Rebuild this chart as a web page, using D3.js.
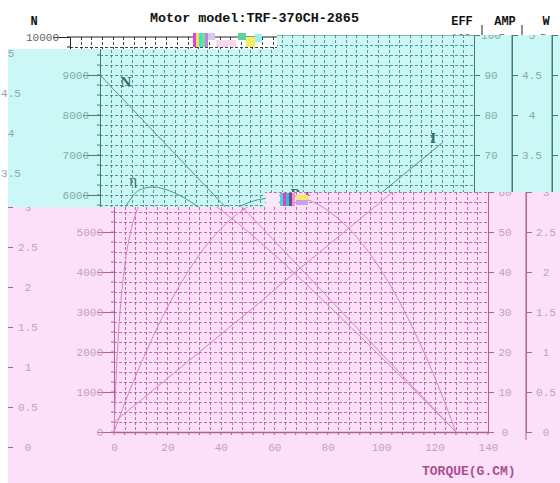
<!DOCTYPE html>
<html>
<head>
<meta charset="utf-8">
<script src="https://cdn.jsdelivr.net/npm/d3@7"></script>
<style>
  body { margin: 0; background: #fff; }
  svg { display: block; }
</style>
</head>
<body>
<div id="chart"></div>
<script>
var width = 560;
var height = 483;

// motor curve data (torque in g.cm)
var torque     = [0, 1, 2, 4, 6, 8, 12, 16, 20, 24, 28, 32, 40, 48, 56, 64, 72, 80, 88, 96, 104, 112, 120, 128];
var speed      = [9000, 8930, 8859, 8719, 8578, 8438, 8156, 7875, 7594, 7313, 7031, 6750, 6188, 5625, 5063, 4500, 3938, 3375, 2813, 2250, 1688, 1125, 563, 0];
var current    = [0.12, 0.15, 0.18, 0.23, 0.29, 0.34, 0.45, 0.56, 0.67, 0.78, 0.89, 1.00, 1.22, 1.44, 1.66, 1.89, 2.11, 2.33, 2.55, 2.77, 2.99, 3.21, 3.43, 3.65];
var efficiency = [0, 16.6, 27.7, 41.5, 49.4, 54.3, 59.5, 61.6, 62.0, 61.5, 60.5, 59.1, 55.5, 51.3, 46.7, 41.9, 36.9, 31.8, 26.6, 21.4, 16.1, 10.8, 5.4, 0];
var power      = [0, 0.09, 0.18, 0.36, 0.53, 0.69, 1.00, 1.29, 1.56, 1.80, 2.02, 2.22, 2.54, 2.77, 2.91, 2.96, 2.91, 2.77, 2.54, 2.22, 1.80, 1.29, 0.69, 0];

var torqueTicks = [0, 20, 40, 60, 80, 100, 120, 140];
var speedTicks  = [0, 1000, 2000, 3000, 4000, 5000, 6000, 7000, 8000, 9000, 10000];
var effTicks    = [0, 10, 20, 30, 40, 50, 60, 70, 80, 90, 100];
var ampTicks    = [0, 0.5, 1, 1.5, 2, 2.5, 3, 3.5, 4, 4.5, 5];
var wattTicks   = [0, 0.5, 1, 1.5, 2, 2.5, 3, 3.5, 4, 4.5, 5];

var title = "Motor model:TRF-370CH-2865";
var xTitle = "TORQUE(G.CM)";

var mono = "'Liberation Mono', 'DejaVu Sans Mono', monospace";
var serif = "'Liberation Serif', 'DejaVu Serif', serif";

var svg = d3.select("#chart")
    .append("svg")
    .attr("width", width)
    .attr("height", height);

var defs = svg.append("defs");

// the picture is three tinted bands, each one shifted a little
var bands = [
    {id: "plain", L: 70, Y0: 437, clip: null, bg: null, wrap: null,
     col: {bg: null, grid: "#222", axis: "#222", curve: "#333", text: "#666", label: "#111"}},
    {id: "cyan", L: 100, Y0: 435,
     clip: "0,49 277,49 277,35 560,35 560,192 265,192 265,207 0,207",
     bg: "8,49 277,49 277,35 560,35 560,192 265,192 265,207 8,207",
     wrap: [562, 18],
     col: {bg: "#cbf8f7", grid: "#3f877a", axis: "#3f7f74", curve: "#4f9486", text: "#86aaa6", label: "#2f6f63"}},
    {id: "pink", L: 114, Y0: 432,
     clip: "8,207 265,207 265,192 560,192 560,483 8,483",
     bg: "8,207 265,207 265,192 560,192 560,483 8,483",
     wrap: [559, 15],
     col: {bg: "#fcdff9", grid: "#b65c9c", axis: "#b0609a", curve: "#d585c2", text: "#c99cc0", label: "#a8508f"}}
];

bands.forEach(function(b) {
    var g = svg.append("g");
    if (b.clip) {
        defs.append("clipPath").attr("id", "clip-" + b.id)
            .append("polygon").attr("points", b.clip);
        g.attr("clip-path", "url(#clip-" + b.id + ")");
    }
    if (b.bg) {
        g.append("polygon").attr("points", b.bg).attr("fill", b.col.bg);
    }
    drawChart(g, b.L, b.Y0, b.col);
    if (b.wrap) {
        // the far right axis wraps round to the left edge
        drawChart(g, b.L - b.wrap[0], b.Y0 + b.wrap[1], b.col);
    }
});

drawNoise();

function drawChart(g, L, Y0, c) {
    var plotW = 374, plotH = 400;
    var top = Y0 - plotH, right = L + plotW;

    var x = d3.scaleLinear().domain([0, 140]).range([L, right]);
    var yN = d3.scaleLinear().domain([0, 10000]).range([Y0, top]);
    var yE = d3.scaleLinear().domain([0, 100]).range([Y0, top]);
    var yA = d3.scaleLinear().domain([0, 5]).range([Y0, top]);
    var yW = d3.scaleLinear().domain([0, 5]).range([Y0, top]);

    // dotted grid, 4 g.cm by 250 rpm
    var grid = g.append("g")
        .attr("stroke", c.grid)
        .attr("stroke-width", 1)
        .attr("stroke-opacity", 0.85)
        .attr("stroke-dasharray", "3,2");
    grid.selectAll(".vgrid")
        .data(d3.range(4, 140, 4))
        .enter().append("line")
        .attr("class", "vgrid")
        .attr("x1", d => Math.round(x(d)) + 0.5)
        .attr("x2", d => Math.round(x(d)) + 0.5)
        .attr("y1", top)
        .attr("y2", Y0);
    grid.selectAll(".hgrid")
        .data(d3.range(250, 10000, 250))
        .enter().append("line")
        .attr("class", "hgrid")
        .attr("x1", L)
        .attr("x2", right)
        .attr("y1", d => Math.round(yN(d)) + 0.5)
        .attr("y2", d => Math.round(yN(d)) + 0.5);

    // small ticks along the frame
    g.append("g").attr("stroke", c.axis)
        .selectAll("line")
        .data(d3.range(0, 141, 4))
        .enter().append("line")
        .attr("x1", d => x(d)).attr("x2", d => x(d))
        .attr("y1", Y0).attr("y2", Y0 + 3);
    g.append("g").attr("stroke", c.axis)
        .selectAll("line")
        .data(d3.range(0, 10001, 250))
        .enter().append("line")
        .attr("x1", L - 3).attr("x2", L)
        .attr("y1", d => yN(d)).attr("y2", d => yN(d));

    g.append("line")
        .attr("x1", L).attr("x2", right)
        .attr("y1", top).attr("y2", top)
        .attr("stroke", c.axis);

    // speed axis (left)
    var axN = g.append("g")
        .attr("transform", "translate(" + L + ",0)")
        .call(d3.axisLeft(yN).tickValues(speedTicks).tickSize(17).tickPadding(-6)
            .tickSizeOuter(0).tickFormat(d => d));
    styleAxis(axN, c);
    axN.selectAll("text").attr("text-anchor", "end");

    // torque axis (bottom)
    var axT = g.append("g")
        .attr("transform", "translate(0," + Y0 + ")")
        .call(d3.axisBottom(x).tickValues(torqueTicks).tickSize(0).tickPadding(11)
            .tickSizeOuter(0).tickFormat(d => d));
    styleAxis(axT, c);
    axT.select(".domain").attr("stroke-width", 1.6);

    // right axes: EFF, AMP, W
    var axE = g.append("g")
        .attr("transform", "translate(" + right + ",0)")
        .call(d3.axisRight(yE).tickValues(effTicks).tickSize(6).tickSizeOuter(0).tickFormat(d => d));
    styleAxis(axE, c);
    axE.selectAll("text").attr("text-anchor", "middle").attr("x", 17);

    var ampX = L + 412, wattX = L + 452;
    [[ampX, yA, ampTicks, 20], [wattX, yW, wattTicks, 21]].forEach(function(a) {
        var ax = g.append("g")
            .attr("transform", "translate(" + a[0] + ",0)")
            .call(d3.axisRight(a[1]).tickValues(a[2]).tickSize(6).tickSizeOuter(0).tickFormat(d => d));
        styleAxis(ax, c);
        ax.selectAll("text").attr("text-anchor", "middle").attr("x", a[3]);
        g.append("line")
            .attr("x1", a[0]).attr("x2", a[0])
            .attr("y1", top - 12).attr("y2", Y0 + 8)
            .attr("stroke", c.axis);
    });

    // curves
    var series = [
        {vals: speed, y: yN},
        {vals: efficiency, y: yE},
        {vals: current, y: yA},
        {vals: power, y: yW}
    ];
    series.forEach(function(s) {
        var line = d3.line()
            .x((d, i) => x(torque[i]))
            .y(d => s.y(d))
            .curve(d3.curveMonotoneX);
        g.append("path")
            .attr("d", line(s.vals))
            .attr("fill", "none")
            .attr("stroke", c.curve)
            .attr("stroke-width", 1);
    });

    // curve names
    var names = [
        {t: "N", x: x(9.7), y: yN(8825), bold: true},
        {t: "η", x: x(12.4), y: yE(63.7), bold: false},
        {t: "I", x: x(124.7), y: yA(3.72), bold: true},
        {t: "P", x: x(73), y: yW(3.01), bold: true}
    ];
    g.selectAll(null)
        .data(names)
        .enter().append("text")
        .attr("x", d => d.x)
        .attr("y", d => d.y)
        .attr("dy", "0.35em")
        .attr("text-anchor", "middle")
        .attr("font-family", serif)
        .attr("font-size", 15)
        .attr("font-weight", d => d.bold ? "bold" : "normal")
        .attr("fill", c.label)
        .text(d => d.t);

    // header
    g.append("text")
        .attr("x", L + 80).attr("y", top - 15)
        .attr("font-family", mono).attr("font-size", 13.4).attr("font-weight", "bold")
        .attr("fill", c.label)
        .text(title);
    [["N", L - 36], ["EFF", L + 392], ["AMP", L + 435], ["W", L + 476]].forEach(function(h) {
        g.append("text")
            .attr("x", h[1]).attr("y", top - 12)
            .attr("text-anchor", "middle")
            .attr("font-family", mono).attr("font-size", 12).attr("font-weight", "bold")
            .attr("fill", c.label)
            .text(h[0]);
    });

    g.append("text")
        .attr("x", L + 308).attr("y", Y0 + 43)
        .attr("font-family", mono).attr("font-size", 13).attr("font-weight", "bold")
        .attr("fill", c.label)
        .text(xTitle);
}

function styleAxis(ax, c) {
    ax.attr("color", c.axis)
        .attr("font-family", mono)
        .attr("font-size", 11);
    ax.selectAll("text").attr("fill", c.text);
}

// bits of broken colour where the bands meet
function drawNoise() {
    var n = svg.append("g");
    var stripes = ["#e040e0", "#f0e040", "#40e0e0", "#80e080", "#c080f0"];
    stripes.forEach(function(col, i) {
        n.append("rect").attr("x", 193 + i * 3).attr("y", 33).attr("width", 3).attr("height", 14).attr("fill", col);
    });
    n.append("rect").attr("x", 208).attr("y", 33).attr("width", 7).attr("height", 7).attr("fill", "#d8c8f0");
    n.append("rect").attr("x", 216).attr("y", 40).attr("width", 20).attr("height", 7).attr("fill", "#f4d8f0");
    n.append("rect").attr("x", 238).attr("y", 33).attr("width", 8).attr("height", 7).attr("fill", "#60d0a0");
    n.append("rect").attr("x", 246).attr("y", 37).attr("width", 9).attr("height", 10).attr("fill", "#f0f060");
    n.append("rect").attr("x", 255).attr("y", 34).attr("width", 7).attr("height", 8).attr("fill", "#a0f0f0");

    var stripes2 = ["#40d8e0", "#e040c0", "#30c0d0", "#8040a0", "#f090d0"];
    n.append("rect").attr("x", 266).attr("y", 193).attr("width", 13).attr("height", 13).attr("fill", "#f8eaf8");
    stripes2.forEach(function(col, i) {
        n.append("rect").attr("x", 280 + i * 3).attr("y", 193).attr("width", 3).attr("height", 13).attr("fill", col);
    });
    n.append("rect").attr("x", 296).attr("y", 195).attr("width", 12).attr("height", 5).attr("fill", "#f8e860");
    n.append("rect").attr("x", 296).attr("y", 200).attr("width", 12).attr("height", 5).attr("fill", "#c8a0f0");
}
</script>
</body>
</html>
